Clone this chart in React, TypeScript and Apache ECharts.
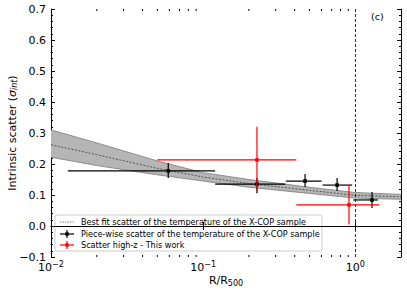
import React, { useEffect, useRef } from "react";
import * as echarts from "echarts";

// Best-fit scatter curve and its band
const bfX = [0.01, 0.02, 0.05, 0.1, 0.2, 0.5, 1, 2];
const bfCenter = [0.262, 0.23, 0.186, 0.158, 0.137, 0.115, 0.099, 0.094];
const bfUpper = [0.31, 0.268, 0.21, 0.172, 0.15, 0.125, 0.108, 0.102];
const bfLower = [0.222, 0.195, 0.165, 0.145, 0.125, 0.105, 0.09, 0.086];

// Piece-wise scatter (X-COP)
const pwX = [0.059, 0.226, 0.468, 0.76, 1.29];
const pwY = [0.178, 0.135, 0.145, 0.132, 0.084];
const pwXLo = [0.0129, 0.12, 0.35, 0.61, 0.97];
const pwXHi = [0.12, 0.347, 0.6, 0.955, 1.41];
const pwYLo = [0.155, 0.106, 0.126, 0.113, 0.058];
const pwYHi = [0.203, 0.155, 0.168, 0.155, 0.11];

// Scatter high-z (this work)
const hzX = [0.226, 0.91];
const hzY = [0.213, 0.068];
const hzXLo = [0.05, 0.41];
const hzXHi = [0.41, 1.44];
const hzYLo = [0.115, 0.005];
const hzYHi = [0.32, 0.132];

const xMinorTicks = [0.02, 0.03, 0.04, 0.05, 0.06, 0.07, 0.08, 0.09, 0.2, 0.3, 0.4, 0.5, 0.6, 0.7, 0.8, 0.9];
const legendLabels = [
  "Best fit scatter of the temperature of the X-COP sample",
  "Piece-wise scatter of the temperature of the X-COP sample",
  "Scatter high-z - This work",
];

const FONT = "DejaVu Sans";
const Y_MIN = -0.1;
const Y_MAX = 0.7;

function errorBarSeries(xs: number[], ys: number[], xl: number[], xh: number[], yl: number[], yh: number[], color: string) {
  return {
    type: "custom",
    data: xs.map((x, i) => [x, ys[i], xl[i], xh[i], yl[i], yh[i]]),
    encode: { x: 0, y: 1 },
    z: 5,
    renderItem: (params: any, api: any) => {
      const x = api.value(0), y = api.value(1);
      const c = api.coord([x, y]);
      const pl = api.coord([api.value(2), y]);
      const ph = api.coord([api.value(3), y]);
      const vl = api.coord([x, api.value(4)]);
      const vh = api.coord([x, api.value(5)]);
      const st = { stroke: color, lineWidth: 1.2 };
      return {
        type: "group",
        children: [
          { type: "line", shape: { x1: pl[0], y1: c[1], x2: ph[0], y2: c[1] }, style: st },
          { type: "line", shape: { x1: c[0], y1: vl[1], x2: c[0], y2: vh[1] }, style: st },
          { type: "rect", shape: { x: c[0] - 1.8, y: c[1] - 1.8, width: 3.6, height: 3.6 }, style: { fill: color } },
        ],
      };
    },
  };
}

export default function App() {
  const ref = useRef<HTMLDivElement>(null);
  useEffect(() => {
    const chart = echarts.init(ref.current!, null, { renderer: "svg" });
    const supMap: Record<string, string> = { "-2": "−2", "-1": "−1", "0": "0" };
    const option: any = {
      animation: false,
      textStyle: { fontFamily: FONT },
      grid: { left: 51, top: 9, right: 6, bottom: 34, outerBoundsMode: "none", containLabel: false },
      xAxis: [
        {
          type: "log",
          logBase: 10,
          min: 0.01,
          max: 2,
          position: "bottom",
          axisLine: { lineStyle: { color: "#000", width: 1 } },
          axisTick: { inside: true, length: 4, lineStyle: { color: "#000" } },
          splitLine: { show: false },
          axisLabel: {
            margin: 3,
            formatter: (v: number) => {
              const l = Math.log10(v);
              const r = Math.round(l);
              if (Math.abs(l - r) > 1e-6) return "";
              return `{b|10}{s|${supMap[String(r)] ?? r}}`;
            },
            rich: {
              b: { fontSize: 11, fontFamily: FONT, color: "#000" },
              s: { fontSize: 8, fontFamily: FONT, color: "#000", padding: [0, 0, 7, 0] },
            },
          },
          name: "{a|R/R}{sub|500}",
          nameLocation: "middle",
          nameGap: 17,
          nameMoveOverlap: false,
          nameTextStyle: {
            rich: {
              a: { fontSize: 11, fontFamily: FONT, color: "#000" },
              sub: { fontSize: 8, fontFamily: FONT, color: "#000", padding: [5, 0, 0, 0] },
            },
          },
        },
        {
          type: "log",
          logBase: 10,
          min: 0.01,
          max: 2,
          position: "top",
          axisLine: { lineStyle: { color: "#000", width: 1 } },
          axisTick: { inside: true, length: 4, lineStyle: { color: "#000" } },
          axisLabel: { show: false },
          splitLine: { show: false },
        },
      ],
      yAxis: [
        {
          type: "value",
          min: Y_MIN,
          max: Y_MAX,
          interval: 0.1,
          position: "left",
          axisLine: { show: true, lineStyle: { color: "#000", width: 1 } },
          axisTick: { show: true, inside: true, length: 4, lineStyle: { color: "#000" } },
          minorTick: { show: true, splitNumber: 5, length: 2, lineStyle: { color: "#000" } },
          splitLine: { show: false },
          axisLabel: {
            fontSize: 11,
            color: "#000",
            margin: 5,
            formatter: (v: number) => (v < -1e-9 ? "−" : "") + Math.abs(v).toFixed(1),
          },
          name: "{a|Intrinsic scatter (}{i|σ}{sub|int}{a|)}",
          nameLocation: "middle",
          nameGap: 33,
          nameRotate: 90,
          nameMoveOverlap: false,
          nameTextStyle: {
            rich: {
              a: { fontSize: 11, fontFamily: FONT, color: "#000" },
              i: { fontSize: 11, fontFamily: FONT, fontStyle: "italic", color: "#000" },
              sub: { fontSize: 8, fontFamily: FONT, fontStyle: "italic", color: "#000", padding: [4, 0, 0, 0] },
            },
          },
        },
        {
          type: "value",
          min: Y_MIN,
          max: Y_MAX,
          interval: 0.1,
          position: "right",
          axisLine: { show: true, lineStyle: { color: "#000", width: 1 } },
          axisTick: { show: true, inside: true, length: 4, lineStyle: { color: "#000" } },
          minorTick: { show: true, splitNumber: 5, length: 2, lineStyle: { color: "#000" } },
          splitLine: { show: false },
          axisLabel: { show: false },
        },
      ],
      series: [
        {
          type: "custom",
          data: [[bfX[0], bfCenter[0]]],
          encode: { x: 0, y: 1 },
          silent: true,
          z: 1,
          renderItem: (params: any, api: any) => {
            const up = bfX.map((x, i) => api.coord([x, bfUpper[i]]));
            const lo = bfX.map((x, i) => api.coord([x, bfLower[i]]));
            const edge = { stroke: "#7a7a7a", lineWidth: 0.8, fill: null };
            return {
              type: "group",
              children: [
                { type: "polygon", shape: { points: [...up, ...lo.slice().reverse()] }, style: { fill: "#b5b5b5" } },
                { type: "polyline", shape: { points: up }, style: edge },
                { type: "polyline", shape: { points: lo }, style: edge },
              ],
            };
          },
        },
        {
          type: "line",
          data: bfX.map((x, i) => [x, bfCenter[i]]),
          symbol: "none",
          lineStyle: { color: "#555", width: 1, type: [2, 1.5] },
          z: 2,
          markLine: {
            silent: true,
            symbol: "none",
            label: { show: false },
            data: [
              { yAxis: 0, lineStyle: { color: "#000", width: 1, type: "solid" } },
              { xAxis: 1, lineStyle: { color: "#000", width: 0.8, type: [3, 2] } },
            ],
          },
        },
        {
          type: "custom",
          data: xMinorTicks.map((v) => [v, Y_MIN]),
          encode: { x: 0, y: 1 },
          silent: true,
          renderItem: (params: any, api: any) => {
            const v = api.value(0);
            const b = api.coord([v, Y_MIN]);
            const t = api.coord([v, Y_MAX]);
            const st = { stroke: "#000", lineWidth: 1 };
            return {
              type: "group",
              children: [
                { type: "line", shape: { x1: b[0], y1: b[1], x2: b[0], y2: b[1] - 2 }, style: st },
                { type: "line", shape: { x1: t[0], y1: t[1], x2: t[0], y2: t[1] + 2 }, style: st },
              ],
            };
          },
        },
        errorBarSeries(pwX, pwY, pwXLo, pwXHi, pwYLo, pwYHi, "#000"),
        errorBarSeries(hzX, hzY, hzXLo, hzXHi, hzYLo, hzYHi, "#ff0000"),
      ],
      graphic: [
        { type: "text", x: 371, y: 11, style: { text: "(c)", fontSize: 9.5, fontFamily: FONT, fill: "#000" } },
        {
          type: "group",
          z: 100,
          children: [
            {
              type: "rect",
              shape: { x: 55, y: 215, width: 267, height: 36, r: 2 },
              style: { fill: "rgba(255,255,255,0.8)", stroke: "#cccccc", lineWidth: 1 },
            },
            { type: "line", shape: { x1: 60, y1: 222, x2: 74, y2: 222 }, style: { stroke: "#888", lineWidth: 1, lineDash: [1.5, 1] } },
            { type: "line", shape: { x1: 60, y1: 234, x2: 74, y2: 234 }, style: { stroke: "#000", lineWidth: 1.2 } },
            { type: "line", shape: { x1: 67, y1: 230, x2: 67, y2: 238 }, style: { stroke: "#000", lineWidth: 1.2 } },
            { type: "rect", shape: { x: 65.3, y: 232.3, width: 3.4, height: 3.4 }, style: { fill: "#000" } },
            { type: "line", shape: { x1: 60, y1: 245, x2: 74, y2: 245 }, style: { stroke: "#ff0000", lineWidth: 1.2 } },
            { type: "line", shape: { x1: 67, y1: 241, x2: 67, y2: 249 }, style: { stroke: "#ff0000", lineWidth: 1.2 } },
            { type: "rect", shape: { x: 65.3, y: 243.3, width: 3.4, height: 3.4 }, style: { fill: "#ff0000" } },
            ...legendLabels.map((t, i) => ({
              type: "text",
              x: 81,
              y: [222, 234, 245][i],
              style: { text: t, fontSize: 8.1, fontFamily: FONT, fill: "#000", verticalAlign: "middle" },
            })),
          ],
        },
      ],
    };
    chart.setOption(option);
    return () => chart.dispose();
  }, []);
  return <div ref={ref} style={{ width: 407, height: 291, position: "absolute", left: 0, top: 0 }} />;
}
